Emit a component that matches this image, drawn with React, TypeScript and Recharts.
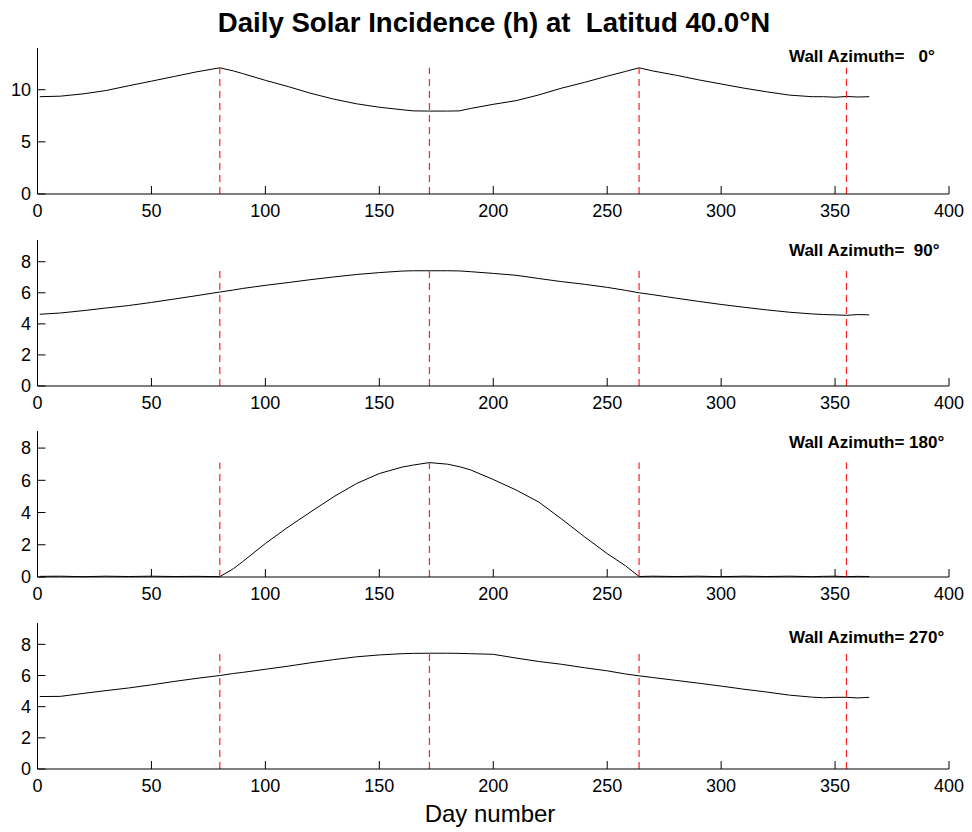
import { LineChart, Line, XAxis, YAxis, ReferenceLine } from 'recharts';

// sample days (day of year) shared by the four panels
const days = [
  1, 10, 20, 30, 40, 50, 60, 70, 80, 86, 90, 100, 110, 120, 130, 140, 150, 160, 165, 172,
  180, 185, 190, 200, 210, 220, 230, 240, 250, 258, 264, 270, 280, 290, 300, 310, 320, 330,
  340, 345, 350, 355, 360, 365,
];

// hours of direct sun on the wall
const az0 = [
  9.33, 9.38, 9.6, 9.92, 10.38, 10.82, 11.27, 11.72, 12.1, 11.8, 11.55, 10.9, 10.3, 9.65, 9.1,
  8.65, 8.32, 8.08, 7.97, 7.95, 7.95, 7.97, 8.2, 8.6, 8.95, 9.5, 10.15, 10.7, 11.3, 11.75, 12.1,
  11.8, 11.4, 10.95, 10.55, 10.15, 9.8, 9.48, 9.33, 9.33, 9.28, 9.35, 9.3, 9.33,
];
const az90 = [
  4.62, 4.7, 4.85, 5.02, 5.18, 5.38, 5.6, 5.82, 6.05, 6.18, 6.28, 6.48, 6.66, 6.85, 7.02, 7.18,
  7.3, 7.4, 7.42, 7.42, 7.42, 7.41, 7.36, 7.25, 7.13, 6.92, 6.72, 6.55, 6.35, 6.16, 6.0, 5.88,
  5.66, 5.45, 5.25, 5.07, 4.9, 4.75, 4.64, 4.6, 4.58, 4.55, 4.6, 4.58,
];
const az180 = [
  0.04, 0.05, 0.02, 0.05, 0.03, 0.05, 0.03, 0.04, 0.02, 0.52, 0.95, 2.08, 3.1, 4.05, 4.98, 5.8,
  6.42, 6.82, 6.95, 7.1, 7.0, 6.85, 6.65, 6.05, 5.4, 4.65, 3.6, 2.5, 1.45, 0.7, 0.03, 0.05,
  0.03, 0.05, 0.02, 0.05, 0.03, 0.05, 0.02, 0.04, 0.05, 0.02, 0.04, 0.03,
];
const az270 = [
  4.65, 4.66, 4.85, 5.03, 5.2, 5.4, 5.62, 5.82, 6.0, 6.13, 6.2, 6.4, 6.6, 6.82, 7.02, 7.2, 7.32,
  7.4, 7.42, 7.43, 7.43, 7.42, 7.4, 7.36, 7.12, 6.9, 6.72, 6.5, 6.3, 6.1, 5.98, 5.87, 5.69,
  5.51, 5.32, 5.12, 4.94, 4.74, 4.61, 4.57, 4.6, 4.6, 4.56, 4.6,
];

// equinoxes and solstices
const keyDays = [80, 172, 264, 355];
const xTicks = [0, 50, 100, 150, 200, 250, 300, 350, 400];
const azimuthLabels = ['Wall Azimuth=   0°', 'Wall Azimuth=  90°', 'Wall Azimuth= 180°', 'Wall Azimuth= 270°'];

const FONT = '"Liberation Sans", Arial, Helvetica, sans-serif';
const PLOT_H = 146;
const PAD_TOP = 10;
const AXIS_H = 36;

const panels = [
  { values: az0, yMax: 14, yTicks: [0, 5, 10], bottom: 194.3, labelY: 57 },
  { values: az90, yMax: 9.4, yTicks: [0, 2, 4, 6, 8], bottom: 385.7, labelY: 251 },
  { values: az180, yMax: 9.06, yTicks: [0, 2, 4, 6, 8], bottom: 576.7, labelY: 443 },
  { values: az270, yMax: 9.37, yTicks: [0, 2, 4, 6, 8], bottom: 769, labelY: 638 },
];

const tickStyle = { fontSize: 18, fill: '#000', fontFamily: FONT };

function Panel({ values, yMax, yTicks, bottom }: { values: number[]; yMax: number; yTicks: number[]; bottom: number }) {
  const data = days.map((d, i) => ({ day: d, hours: values[i] }));
  const peak = Math.max(...values);
  return (
    <div style={{ position: 'absolute', left: 0, top: bottom - PLOT_H - PAD_TOP }}>
      <LineChart
        width={972}
        height={PAD_TOP + PLOT_H + AXIS_H}
        data={data}
        margin={{ top: PAD_TOP, right: 23, bottom: 0, left: 0 }}
      >
        <XAxis
          dataKey="day"
          type="number"
          domain={[0, 400]}
          ticks={xTicks}
          interval={0}
          height={AXIS_H}
          tickSize={-8}
          tickMargin={18}
          stroke="#000"
          tick={tickStyle}
        />
        <YAxis
          type="number"
          domain={[0, yMax]}
          ticks={yTicks}
          interval={0}
          width={37.5}
          tickSize={-8}
          tickMargin={14.5}
          stroke="#000"
          tick={tickStyle}
        />
        <Line
          type="linear"
          dataKey="hours"
          stroke="#000"
          strokeWidth={1}
          dot={false}
          isAnimationActive={false}
        />
        {keyDays.map((d) => (
          <ReferenceLine
            key={d}
            segment={[{ x: d, y: 0 }, { x: d, y: peak }]}
            stroke="#ff2020"
            strokeWidth={1.2}
            strokeDasharray="7 5"
          />
        ))}
      </LineChart>
    </div>
  );
}

export default function App() {
  return (
    <div style={{ position: 'absolute', left: 0, top: 0, width: 972, height: 832, background: '#fff', fontFamily: FONT }}>
      <svg width={972} height={45} style={{ position: 'absolute', left: 0, top: 0 }}>
        <text x={494} y={32} textAnchor="middle" fontSize={27.6} fontWeight="bold" fontFamily={FONT} fill="#000">
          Daily Solar Incidence (h) at{'\u00a0\u00a0'}Latitud 40.0°N
        </text>
      </svg>
      {panels.map((p, i) => (
        <Panel key={i} values={p.values} yMax={p.yMax} yTicks={p.yTicks} bottom={p.bottom} />
      ))}
      {panels.map((p, i) => (
        <div
          key={'lbl' + i}
          style={{
            position: 'absolute',
            left: 789,
            top: p.labelY - 10,
            lineHeight: '20px',
            fontSize: 17,
            fontWeight: 'bold',
            whiteSpace: 'pre',
            color: '#000',
          }}
        >
          {azimuthLabels[i]}
        </div>
      ))}
      <div
        style={{
          position: 'absolute',
          left: 0,
          width: 980,
          top: 800,
          textAlign: 'center',
          fontSize: 24,
          lineHeight: '28px',
          color: '#000',
        }}
      >
        Day number
      </div>
    </div>
  );
}
